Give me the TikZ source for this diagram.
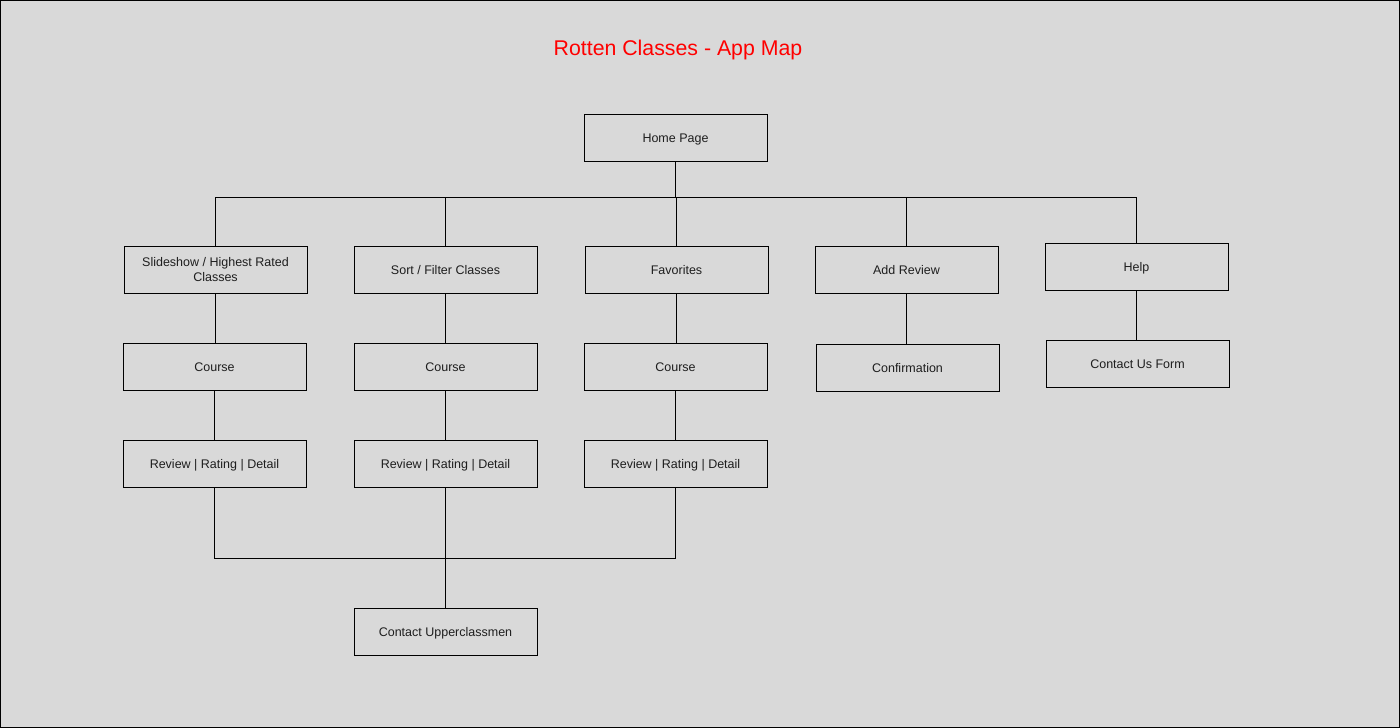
\documentclass[tikz,border=0pt]{standalone}
\usepackage{fontspec}
\setmainfont{Liberation Sans}
\definecolor{bg}{HTML}{D9D9D9}
\definecolor{ink}{HTML}{1E1E1E}
\definecolor{titlered}{HTML}{FF0000}

\tikzset{
  page/.style={draw=black, line width=1.2pt, fill=bg},
  screen/.style={draw=black, line width=1pt, minimum width=183pt, minimum height=47pt,
    inner sep=0pt, align=center, text=ink, font=\fontsize{12.5}{15.5}\selectfont},
  oneline/.style={screen, text height=9pt, text depth=0pt},
  link/.style={draw=black, line width=1pt}
}

\begin{document}
\begin{tikzpicture}[x=1pt, y=-1pt]
\draw [page] (0.6,0.6) rectangle (1399.4,727.4);
\useasboundingbox (0,0) rectangle (1400,728);

\node [text=titlered, font=\fontsize{21.3}{24}\selectfont] (title) at (678,49.5) {Rotten Classes - App Map};

\node [oneline] (home) at (675.5,137.5) {Home Page};

% first level
\node [screen] (slide) at (215.5,269.5) {Slideshow / Highest Rated\\Classes};
\node [oneline] (sort) at (445.5,269.5) {Sort / Filter Classes};
\node [oneline] (fav) at (676.5,269.5) {Favorites};
\node [oneline] (add) at (906.5,269.5) {Add Review};
\node [oneline] (help) at (1136.5,266.5) {Help};

% second level
\node [oneline] (course1) at (214.5,366.5) {Course};
\node [oneline] (course2) at (445.5,366.5) {Course};
\node [oneline] (course3) at (675.5,366.5) {Course};
\node [oneline] (confirm) at (907.5,367.5) {Confirmation};
\node [oneline] (contact) at (1137.5,363.5) {Contact Us Form};

% third level
\node [oneline] (review1) at (214.5,463.5) {Review | Rating | Detail};
\node [oneline] (review2) at (445.5,463.5) {Review | Rating | Detail};
\node [oneline] (review3) at (675.5,463.5) {Review | Rating | Detail};

\node [oneline] (upper) at (445.5,631.5) {Contact Upperclassmen};

\coordinate (bus) at (0,197);
\coordinate (low) at (0,558);

\draw [link] (home.south) -- (home.south |- bus);
\draw [link] (slide.north |- bus) -- (help.north |- bus);
\foreach \n in {slide, sort, fav, add, help}
  \draw [link] (\n.north |- bus) -- (\n.north);

\draw [link] (slide.south) -- (slide.south |- course1.north);
\draw [link] (sort.south) -- (sort.south |- course2.north);
\draw [link] (fav.south) -- (fav.south |- course3.north);
\draw [link] (add.south) -- (add.south |- confirm.north);
\draw [link] (help.south) -- (help.south |- contact.north);

\draw [link] (course1.south) -- (course1.south |- review1.north);
\draw [link] (course2.south) -- (course2.south |- review2.north);
\draw [link] (course3.south) -- (course3.south |- review3.north);

\draw [link] (review1.south) -- (review1.south |- low) -- (review3.south |- low) -- (review3.south);
\draw [link] (review2.south) -- (upper.north);
\end{tikzpicture}
\end{document}
